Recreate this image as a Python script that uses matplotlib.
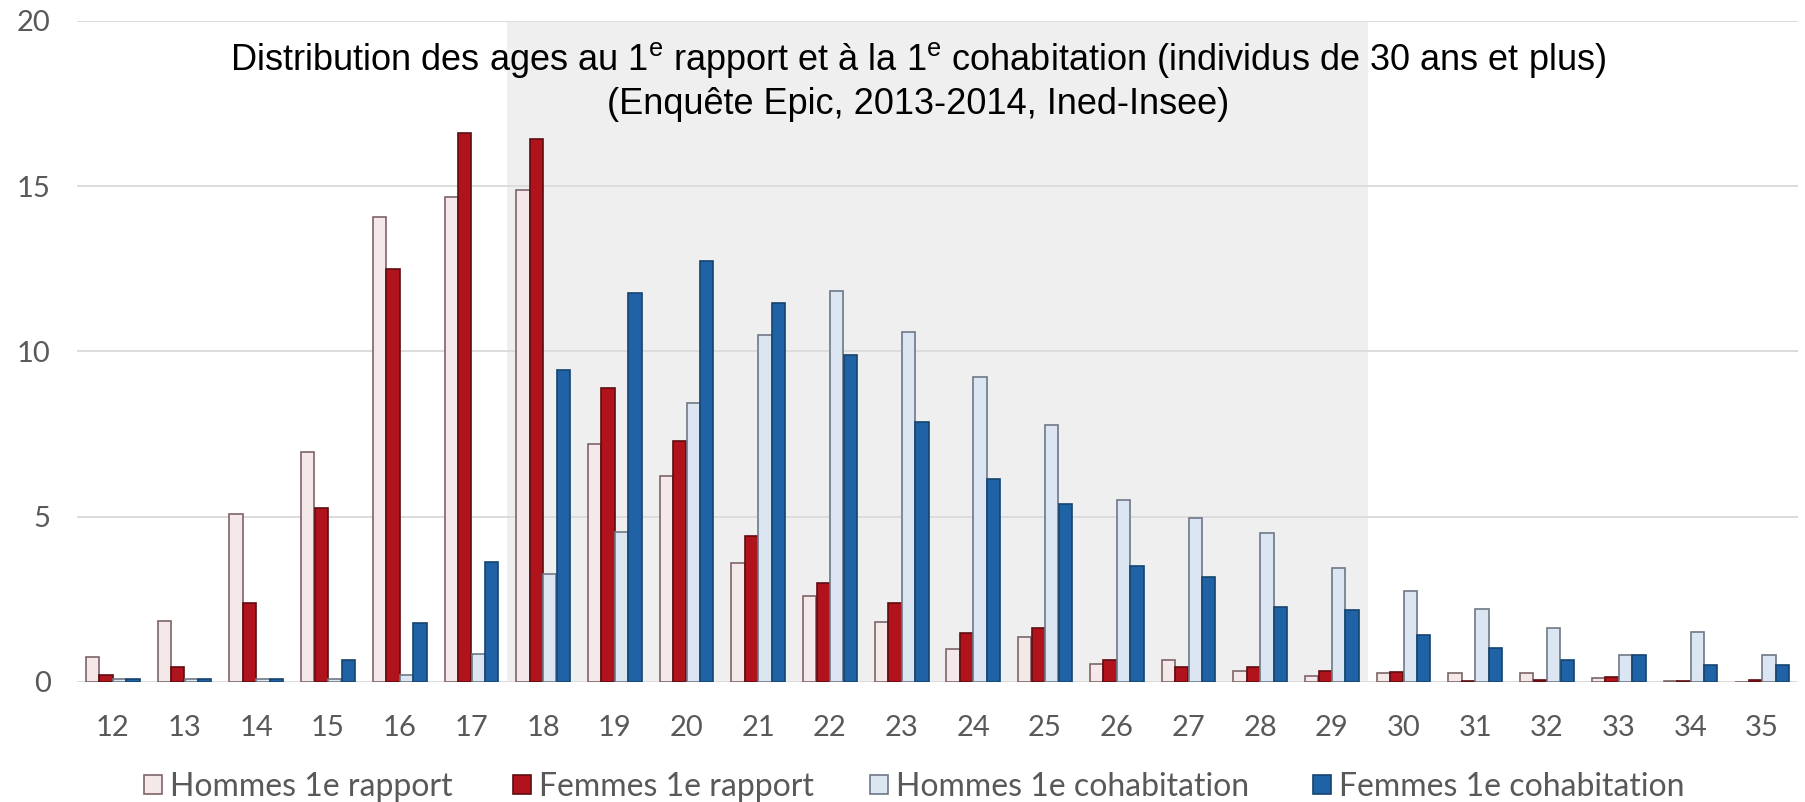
import matplotlib
matplotlib.use("Agg")
import matplotlib.pyplot as plt
import numpy as np
from matplotlib.patches import Patch

ages = [str(a) for a in range(12, 36)]
hommes_rapport = [0.75, 1.85, 5.08, 6.97, 14.07, 14.66, 14.9, 7.2, 6.23, 3.59, 2.61, 1.82,
                  1.01, 1.35, 0.55, 0.68, 0.34, 0.17, 0.28, 0.28, 0.28, 0.12, 0.03, 0.0]
femmes_rapport = [0.2, 0.45, 2.38, 5.27, 12.51, 16.62, 16.43, 8.89, 7.3, 4.43, 2.99, 2.38,
                  1.49, 1.64, 0.68, 0.45, 0.45, 0.33, 0.31, 0.03, 0.06, 0.15, 0.03, 0.06]
hommes_cohab = [0.1, 0.1, 0.1, 0.08, 0.2, 0.85, 3.28, 4.54, 8.45, 10.49, 11.84, 10.58,
                9.23, 7.77, 5.51, 4.97, 4.52, 3.46, 2.75, 2.2, 1.62, 0.82, 1.5, 0.82]
femmes_cohab = [0.08, 0.08, 0.1, 0.68, 1.78, 3.62, 9.43, 11.76, 12.74, 11.46, 9.9, 7.88,
                6.15, 5.38, 3.51, 3.18, 2.26, 2.17, 1.42, 1.04, 0.67, 0.82, 0.51, 0.51]
series_labels = ["Hommes 1e rapport", "Femmes 1e rapport",
                 "Hommes 1e cohabitation", "Femmes 1e cohabitation"]
yticks = [0, 5, 10, 15, 20]

fills = ["#f4e8e9", "#b0131b", "#dce6f2", "#1f63a6"]
edges = ["#7d6468", "#5e0c10", "#6e7886", "#15446f"]

plt.rcParams['mathtext.fontset'] = 'custom'
plt.rcParams['mathtext.rm'] = 'Liberation Sans'
plt.rcParams['mathtext.it'] = 'Liberation Sans'

W, H = 1806, 802
fig = plt.figure(figsize=(W / 100, H / 100), dpi=100)
ax = fig.add_axes([77 / W, 1 - 682 / H, (1798 - 77) / W, (682 - 21) / H])

x = np.arange(len(ages))
ax.axvspan(5.5, 17.5, color="#efefef", zorder=0, lw=0)

step = 0.188
width = 0.185
data = [hommes_rapport, femmes_rapport, hommes_cohab, femmes_cohab]
for i, vals in enumerate(data):
    ax.bar(x + (i - 1.5) * step, vals, width=width, color=fills[i],
           edgecolor=edges[i], linewidth=1.2, zorder=3)

ax.set_xlim(-0.5, len(ages) - 0.5)
ax.set_ylim(0, 20)
ax.set_yticks(yticks)
ax.set_xticks(x)
ax.set_xticklabels(ages)
ax.yaxis.grid(True, color="#dcdcdc", linewidth=1.4, zorder=1)
ax.set_axisbelow(True)
for s in ax.spines.values():
    s.set_visible(False)
ax.tick_params(axis='both', length=0, labelcolor="#595959", labelsize=21)
ax.tick_params(axis='x', pad=24)
ax.tick_params(axis='y', pad=19)
for lab in ax.get_xticklabels() + ax.get_yticklabels():
    lab.set_fontfamily('Lato')

fig.text(918 / W, 1 - 70 / H,
         r"Distribution des ages au 1$^{\rm e}$ rapport et à la 1$^{\rm e}$ cohabitation (individus de 30 ans et plus)",
         ha='center', va='baseline', fontsize=26, family='Liberation Sans', color='black')
fig.text(918 / W, 1 - 114 / H, "(Enquête Epic, 2013-2014, Ined-Insee)",
         ha='center', va='baseline', fontsize=26, family='Liberation Sans', color='black')

legend_x = [144, 513, 870, 1313]
for i in range(4):
    h = Patch(facecolor=fills[i], edgecolor=edges[i], linewidth=1.2)
    leg = fig.legend([h], [series_labels[i]], loc='center left',
                     bbox_to_anchor=(legend_x[i] / W, 1 - 787 / H),
                     frameon=False, borderpad=0, borderaxespad=0,
                     handlelength=0.55, handleheight=0.55, handletextpad=0.25,
                     prop={'family': 'Lato', 'size': 23}, labelcolor="#595959")

fig.savefig("out.png", dpi=100)
